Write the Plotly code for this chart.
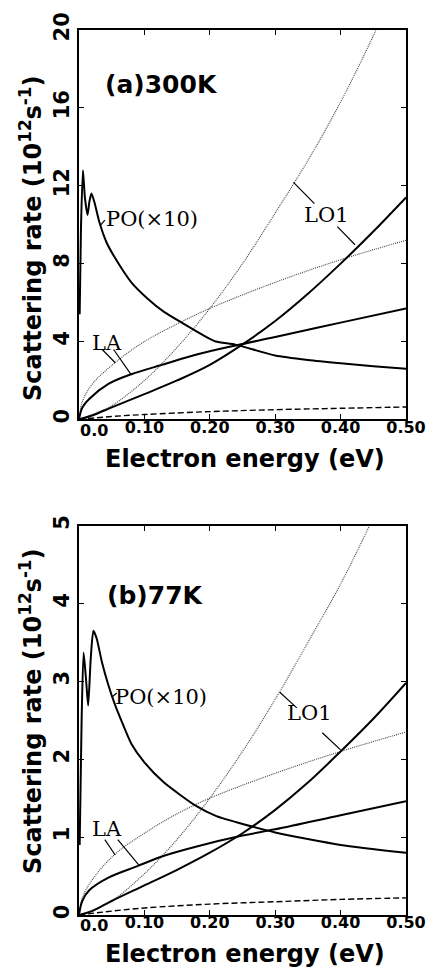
import plotly.graph_objects as go

# ---------------- data: (a) 300 K ----------------
po_a_x = [0.001, 0.003, 0.006, 0.009, 0.013, 0.016, 0.019, 0.024, 0.031, 0.042, 0.055, 0.080, 0.105, 0.130, 0.159, 0.189, 0.209, 0.239, 0.30, 0.35, 0.40, 0.45, 0.50]
po_a_y = [5.4, 9.8, 12.8, 11.4, 10.5, 11.2, 11.6, 11.1, 10.15, 9.1, 8.3, 7.04, 6.2, 5.52, 4.93, 4.34, 4.0, 3.84, 3.28, 3.05, 2.88, 2.73, 2.6]
la_a_x = [0.0, 0.005, 0.016, 0.045, 0.08, 0.13, 0.18, 0.24, 0.30, 0.40, 0.50]
la_a_y = [0.0, 0.6, 1.06, 1.82, 2.32, 2.83, 3.33, 3.8, 4.23, 4.97, 5.7]
lo_a_x = [0.0, 0.02, 0.05, 0.10, 0.15, 0.20, 0.25, 0.30, 0.35, 0.40, 0.45, 0.50]
lo_a_y = [0.0, 0.2, 0.62, 1.3, 2.0, 2.8, 3.85, 5.05, 6.45, 8.0, 9.65, 11.4]
lad_a_x = [0.0, 0.005, 0.02, 0.055, 0.10, 0.15, 0.20, 0.30, 0.40, 0.50]
lad_a_y = [0.0, 0.9, 1.8, 2.91, 4.0, 4.9, 5.7, 7.04, 8.2, 9.2]
lod_a_x = [0.0, 0.02, 0.05, 0.10, 0.15, 0.20, 0.25, 0.30, 0.35, 0.40, 0.45, 0.47]
lod_a_y = [0.0, 0.25, 0.7, 2.0, 3.7, 5.7, 8.0, 10.6, 13.3, 16.3, 19.7, 21.2]
dash_a_x = [0.0, 0.05, 0.10, 0.20, 0.30, 0.40, 0.50]
dash_a_y = [0.0, 0.15, 0.25, 0.4, 0.5, 0.57, 0.64]

# ---------------- data: (b) 77 K ----------------
po_b_x = [0.001, 0.004, 0.007, 0.011, 0.014, 0.018, 0.022, 0.027, 0.035, 0.045, 0.055, 0.067, 0.080, 0.100, 0.130, 0.179, 0.210, 0.30, 0.40, 0.50]
po_b_y = [0.9, 2.5, 3.37, 3.0, 2.69, 3.3, 3.65, 3.55, 3.25, 2.95, 2.7, 2.45, 2.2, 1.96, 1.7, 1.4, 1.27, 1.06, 0.9, 0.8]
la_b_x = [0.0, 0.005, 0.016, 0.045, 0.09, 0.13, 0.18, 0.25, 0.30, 0.40, 0.50]
la_b_y = [0.0, 0.18, 0.32, 0.48, 0.63, 0.76, 0.88, 1.02, 1.1, 1.28, 1.46]
lo_b_x = [0.0, 0.02, 0.05, 0.10, 0.15, 0.20, 0.25, 0.30, 0.35, 0.40, 0.45, 0.50]
lo_b_y = [0.0, 0.05, 0.18, 0.38, 0.58, 0.8, 1.05, 1.35, 1.7, 2.1, 2.52, 2.98]
lad_b_x = [0.0, 0.005, 0.02, 0.055, 0.10, 0.15, 0.20, 0.30, 0.40, 0.50]
lad_b_y = [0.0, 0.22, 0.45, 0.78, 1.05, 1.3, 1.5, 1.82, 2.1, 2.35]
lod_b_x = [0.0, 0.02, 0.05, 0.10, 0.15, 0.20, 0.25, 0.30, 0.35, 0.40, 0.45, 0.47]
lod_b_y = [0.0, 0.06, 0.18, 0.53, 0.97, 1.5, 2.1, 2.77, 3.5, 4.25, 5.1, 5.45]
dash_b_x = [0.0, 0.05, 0.10, 0.20, 0.30, 0.40, 0.50]
dash_b_y = [0.0, 0.05, 0.09, 0.14, 0.17, 0.2, 0.22]

x_tick_vals = [0.1, 0.2, 0.3, 0.4, 0.5]
x_tick_text = ["0.10", "0.20", "0.30", "0.40", "0.50"]
y_a_ticks = [0, 4, 8, 12, 16, 20]
y_b_ticks = [0, 1, 2, 3, 4, 5]

# label anchor points (data coords) and leader segments
labels_a = [("PO(×10)", 0.111, 10.3), ("LA", 0.0425, 3.94), ("LO1", 0.378, 10.5)]
labels_b = [("PO(×10)", 0.126, 2.80), ("LA", 0.0425, 1.10), ("LO1", 0.353, 2.59)]
leaders_a = [(0.033, 9.98, 0.0395, 10.24), (0.0355, 3.59, 0.0554, 2.91), (0.0529, 3.59, 0.080, 2.29),
             (0.328, 12.17, 0.36, 11.08), (0.395, 9.9, 0.422, 8.97)]
leaders_b = [(0.0504, 2.8, 0.0578, 2.85), (0.0395, 0.968, 0.0554, 0.77), (0.0593, 0.968, 0.0926, 0.63),
             (0.307, 2.86, 0.333, 2.66), (0.372, 2.34, 0.4, 2.12)]

SOLID = dict(color="black", width=2)
DOT = dict(color="#444", width=1.1, dash="1px,1px")
DASH = dict(color="black", width=1.4, dash="6px,3px")

fig = go.Figure()

def add_set(xa, ya, series):
    for xs, ys, ln, sm in series:
        fig.add_trace(go.Scatter(x=xs, y=ys, mode="lines", xaxis=xa, yaxis=ya,
                                 line=dict(shape="spline", smoothing=sm, **ln),
                                 showlegend=False, hoverinfo="skip"))

add_set("x", "y", [(lod_a_x, lod_a_y, DOT, 1.0), (lad_a_x, lad_a_y, DOT, 1.0),
                   (dash_a_x, dash_a_y, DASH, 1.0), (la_a_x, la_a_y, SOLID, 1.0),
                   (lo_a_x, lo_a_y, SOLID, 1.0), (po_a_x, po_a_y, SOLID, 0.6)])
add_set("x2", "y2", [(lod_b_x, lod_b_y, DOT, 1.0), (lad_b_x, lad_b_y, DOT, 1.0),
                     (dash_b_x, dash_b_y, DASH, 1.0), (la_b_x, la_b_y, SOLID, 1.0),
                     (lo_b_x, lo_b_y, SOLID, 1.0), (po_b_x, po_b_y, SOLID, 0.6)])

SANS = "DejaVu Sans, sans-serif"
SERIF = "DejaVu Serif, serif"

xcommon = dict(range=[0, 0.5], tickvals=x_tick_vals, ticktext=[f"<b>{t}</b>" for t in x_tick_text],
               ticks="inside", ticklen=5, tickwidth=1, tickcolor="black", showline=True, linewidth=2,
               linecolor="black", mirror="ticks", showgrid=False, zeroline=False, ticklabelstandoff=-8,
               tickfont=dict(family=SANS, size=16, color="black"), domain=[0, 1])
ycommon = dict(ticks="inside", ticklen=5, tickwidth=1, tickcolor="black", showline=True, linewidth=2,
               linecolor="black", mirror="ticks", showgrid=False, zeroline=False, tickangle=-90,
               tickfont=dict(family=SANS, size=21, color="black"))

fig.update_layout(
    width=438, height=975, margin=dict(l=79, r=22, t=15, b=60),
    paper_bgcolor="white", plot_bgcolor="white",
    xaxis=dict(anchor="y", **xcommon),
    yaxis=dict(anchor="x", domain=[0.56, 1.0], range=[0, 20], tickvals=y_a_ticks,
               ticktext=[f"<b>{v}</b>" for v in y_a_ticks], **ycommon),
    xaxis2=dict(anchor="y2", **xcommon),
    yaxis2=dict(anchor="x2", domain=[0.0, 0.44], range=[0, 5], tickvals=y_b_ticks,
                ticktext=[f"<b>{v}</b>" for v in y_b_ticks], **ycommon),
)

ann = []
for xr, yr, labels in (("x", "y", labels_a), ("x2", "y2", labels_b)):
    for t, x, y in labels:
        ann.append(dict(x=x, y=y, xref=xr, yref=yr, text=t, showarrow=False,
                        font=dict(family=SERIF, size=21, color="black")))

def px2paper(px, py):
    return (px - 79) / 337, (915 - py) / 900

for py in (422, 926):
    x, y = px2paper(78, py)
    ann.append(dict(x=x, y=y, xref="paper", yref="paper", text="<b>0.0</b>", showarrow=False,
                    xanchor="left", yanchor="middle", font=dict(family=SANS, size=16, color="black")))

ann.append(dict(x=0.126, y=17.22, xref="x", yref="y", text="<b>(a)300K</b>", showarrow=False,
                font=dict(family=SANS, size=25, color="black")))
ann.append(dict(x=0.117, y=4.10, xref="x2", yref="y2", text="<b>(b)77K</b>", showarrow=False,
                font=dict(family=SANS, size=25, color="black")))

ytitle = "<b>Scattering rate (10<sup>12</sup>s<sup>-1</sup>)</b>"
xtitle = "<b>Electron energy (eV)</b>"
for py in (227, 708):
    x, y = px2paper(30, py)
    ann.append(dict(x=x, y=y, xref="paper", yref="paper", text=ytitle, textangle=-90, showarrow=False,
                    xanchor="center", yanchor="middle", font=dict(family=SANS, size=24, color="black")))
for py in (451, 955):
    x, y = px2paper(250, py)
    ann.append(dict(x=x, y=y, xref="paper", yref="paper", text=xtitle, showarrow=False,
                    xanchor="center", yanchor="middle", font=dict(family=SANS, size=24, color="black")))
fig.update_layout(annotations=ann)

shapes = []
for xr, yr, leaders in (("x", "y", leaders_a), ("x2", "y2", leaders_b)):
    for x0, y0, x1, y1 in leaders:
        shapes.append(dict(type="line", xref=xr, yref=yr, x0=x0, y0=y0, x1=x1, y1=y1,
                           line=dict(color="black", width=1.2)))
fig.update_layout(shapes=shapes)

fig.write_html("out.html")
